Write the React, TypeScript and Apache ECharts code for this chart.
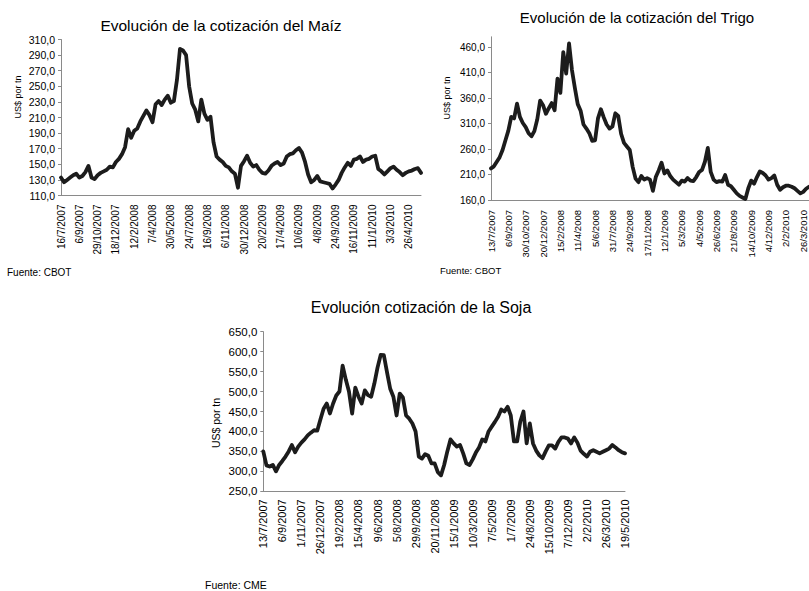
import React, { useEffect, useRef } from "react";
import * as echarts from "echarts";

const STEP = 6;

const maizLabels = ["16/7/2007","6/9/2007","29/10/2007","18/12/2007","12/2/2008","7/4/2008","30/5/2008","24/7/2008","16/9/2008","6/11/2008","30/12/2008","20/2/2009","17/4/2009","10/6/2009","4/8/2009","24/9/2009","16/11/2009","11/1/2010","3/3/2010","26/4/2010"];
const maizValues = [133,127,130,133,136,138, 133,135,140,148,133,131, 136,139,141,143,147,146, 153,157,163,172,195,184, 193,196,205,212,219,213, 204,227,231,226,233,238, 229,231,258,298,296,290, 250,228,220,205,233,215, 207,211,178,160,156,153, 148,146,141,138,120,148, 154,161,152,147,149,143, 139,138,142,148,151,153, 149,151,160,163,164,168, 171,165,153,137,127,130, 135,128,127,126,125,119, 124,130,139,146,152,148, 156,157,160,153,156,157, 160,161,144,141,137,141, 145,147,143,140,136,139, 141,142,144,145,139];
const maizTicks = [110,130,150,170,190,210,230,250,270,290,310];

const trigoLabels = ["13/7/2007","6/9/2007","30/10/2007","20/12/2007","15/2/2008","11/4/2008","5/6/2008","31/7/2008","24/9/2008","17/11/2008","12/1/2009","5/3/2009","4/5/2009","26/6/2009","21/8/2009","14/10/2009","4/12/2009","2/2/2010","26/3/2010"];
const trigoValues = [222,226,235,244,258,277, 296,323,320,349,323,311, 303,291,285,295,318,355, 346,329,340,350,336,398, 370,450,408,467,415,380, 348,335,308,300,291,276, 277,320,338,322,308,300, 304,330,325,290,272,265, 258,225,202,195,207,200, 203,200,178,205,218,233, 212,218,207,200,195,190, 198,196,203,198,197,205, 215,219,235,262,215,200, 195,197,196,209,190,187, 180,173,168,165,162,183, 198,192,205,216,213,208, 200,203,208,190,180,185, 188,188,186,183,178,173, 176,182,186];
const trigoTicks = [160,210,260,310,360,410,460];

const sojaLabels = ["13/7/2007","6/9/2007","1/11/2007","26/12/2007","19/2/2008","15/4/2008","9/6/2008","5/8/2008","29/9/2008","20/11/2008","15/1/2009","10/3/2009","7/5/2009","1/7/2009","24/8/2009","15/10/2009","7/12/2009","2/2/2010","26/3/2010","19/5/2010"];
const sojaValues = [350,315,312,316,300,316, 326,337,350,366,348,362, 372,380,390,397,403,402, 430,457,470,445,470,490, 500,565,530,500,445,510, 487,470,503,491,487,520, 560,592,591,548,507,487, 440,495,485,440,432,420, 400,337,332,343,339,320, 320,298,290,316,350,380, 370,362,366,345,320,316, 330,347,360,380,375,400, 412,424,437,455,450,462, 440,375,375,425,450,370, 420,370,352,340,333,350, 365,365,357,374,385,385, 382,370,385,372,352,344, 337,349,353,349,345,349, 353,357,366,360,353,348, 345];
const sojaTicks = [250,300,350,400,450,500,550,600,650];

const FONT = "'Liberation Sans', Arial, Helvetica, sans-serif";
const LINE = "#1c1c1c";
const AXIS = "#8a8a8a";

function cats(values: number[], labels: string[]) {
  return values.map((_, i) => (i % STEP === 0 && labels[i / STEP] ? labels[i / STEP] : "·" + i));
}

function fmt(v: number) {
  return v.toFixed(1).replace(".", ",");
}

function xAxis(gridIndex: number, values: number[], labels: string[], fontSize: number, margin: number) {
  return {
    type: "category",
    gridIndex,
    data: cats(values, labels),
    boundaryGap: false,
    axisLine: { lineStyle: { color: AXIS, width: 1 } },
    axisTick: { show: false },
    splitLine: { show: false },
    axisLabel: {
      interval: (i: number) => i % STEP === 0,
      rotate: 90,
      margin,
      color: "#000",
      fontSize,
      fontFamily: FONT,
    },
  };
}

function yAxis(gridIndex: number, min: number, max: number, ticks: number[], fontSize: number) {
  return {
    type: "value",
    gridIndex,
    min,
    max,
    axisLine: { show: true, lineStyle: { color: AXIS, width: 1 } },
    axisTick: { show: true, inside: false, length: 3, lineStyle: { color: AXIS }, customValues: ticks },
    splitLine: { show: false },
    axisLabel: { customValues: ticks, formatter: fmt, color: "#000", fontSize, fontFamily: FONT, margin: 6 },
  };
}

function txt(text: string, x: number, y: number, fontSize: number, align: string, rotation = 0) {
  return {
    type: "text",
    x,
    y,
    rotation,
    style: { text, fontSize, fontFamily: FONT, fill: "#000", textAlign: align, textVerticalAlign: "middle" },
  };
}

function line(i: number, data: number[]) {
  return {
    type: "line",
    xAxisIndex: i,
    yAxisIndex: i,
    data,
    showSymbol: false,
    lineStyle: { color: LINE, width: 3.8, join: "round", cap: "round" },
  };
}

export default function App() {
  const ref = useRef<HTMLDivElement>(null);
  useEffect(() => {
    if (!ref.current) return;
    const chart = echarts.init(ref.current, undefined, { renderer: "svg" });
    chart.setOption({
      animation: false,
      backgroundColor: "#fff",
      grid: [
        { left: 61, top: 39.5, width: 360, height: 156 },
        { left: 491, top: 36.8, width: 320, height: 163.2 },
        { left: 263.3, top: 331.7, width: 361.7, height: 159.6 },
      ],
      xAxis: [
        xAxis(0, maizValues, maizLabels, 10, 9),
        xAxis(1, trigoValues, trigoLabels, 9.5, 10),
        xAxis(2, sojaValues, sojaLabels, 11, 8),
      ],
      yAxis: [
        yAxis(0, 110, 310, maizTicks, 10.5),
        yAxis(1, 160, 480, trigoTicks, 10),
        yAxis(2, 250, 650, sojaTicks, 11.5),
      ],
      series: [line(0, maizValues), line(1, trigoValues), line(2, sojaValues)],
      graphic: [
        txt("Evolución de la cotización del Maíz", 221, 25, 15.5, "center"),
        txt("Evolución de la cotización del Trigo", 637, 17, 15, "center"),
        txt("Evolución cotización de la Soja", 421, 307, 16, "center"),
        txt("US$ por tn", 18, 97, 9, "center", Math.PI / 2),
        txt("US$ por tn", 447, 98, 9, "center", Math.PI / 2),
        txt("US$ por tn", 216, 423, 10.5, "center", Math.PI / 2),
        txt("Fuente: CBOT", 7, 272, 10, "left"),
        txt("Fuente: CBOT", 440, 270, 9.5, "left"),
        txt("Fuente: CME", 205, 585, 10.5, "left"),
      ],
    });
    return () => chart.dispose();
  }, []);
  return <div ref={ref} style={{ position: "absolute", left: 0, top: 0, width: 809, height: 591, background: "#fff" }} />;
}
